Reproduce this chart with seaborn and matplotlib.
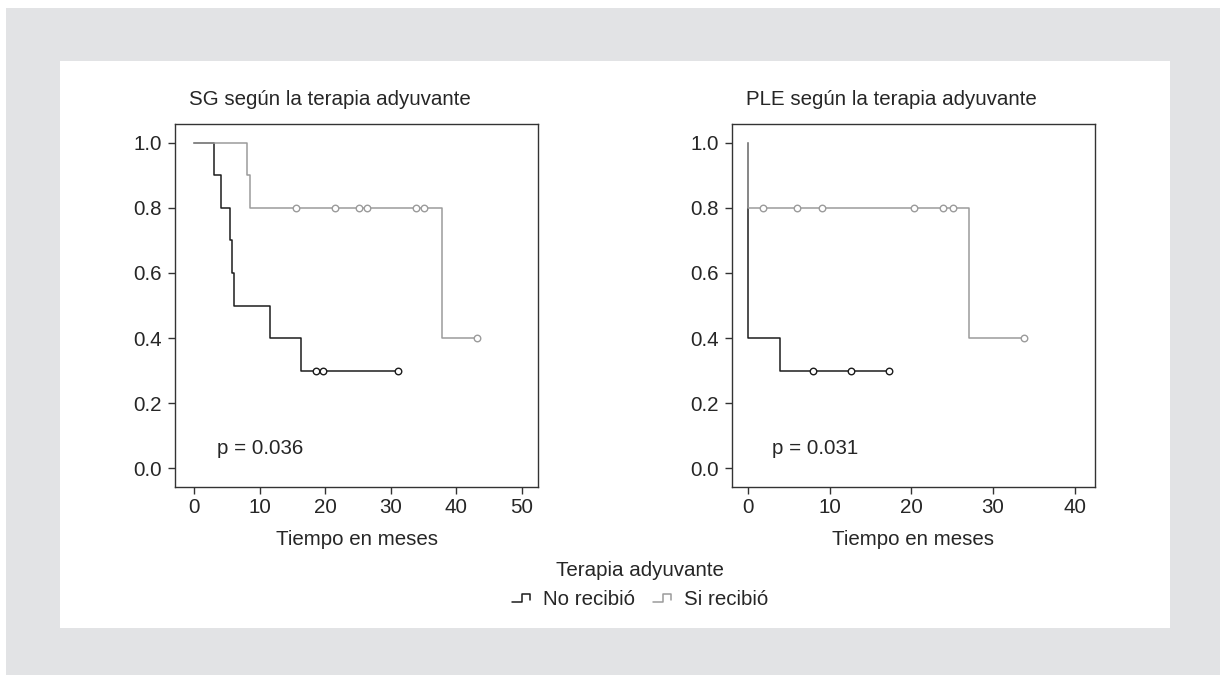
import matplotlib
matplotlib.use("Agg")
import matplotlib.pyplot as plt
import seaborn as sns
import pandas as pd
from matplotlib.lines import Line2D
from matplotlib.patches import Rectangle
from matplotlib.legend_handler import HandlerBase

# ---------------- data ----------------
groups = ["No recibió", "Si recibió"]
colors = {"No recibió": "#1c1c1c", "Si recibió": "#9b9b9b"}

# Panel 1: SG
sg_no_t = [0, 3.05, 4.12, 5.5, 5.75, 6.06, 11.6, 16.4, 31.2]
sg_no_s = [1.0, 0.9, 0.8, 0.7, 0.6, 0.5, 0.4, 0.3, 0.3]
sg_si_t = [0, 8.14, 8.55, 37.9, 43.2]
sg_si_s = [1.0, 0.9, 0.8, 0.4, 0.4]
sg_no_cens_t = [18.6, 19.7, 31.2]
sg_no_cens_s = [0.3, 0.3, 0.3]
sg_si_cens_t = [15.5, 21.5, 25.2, 26.4, 33.9, 35.1, 43.2]
sg_si_cens_s = [0.8, 0.8, 0.8, 0.8, 0.8, 0.8, 0.4]

# Panel 2: PLE
ple_no_t = [0, 0, 3.92, 17.3]
ple_no_s = [1.0, 0.4, 0.3, 0.3]
ple_si_t = [0, 0, 27.0, 33.8]
ple_si_s = [1.0, 0.8, 0.4, 0.4]
ple_no_cens_t = [7.97, 12.6, 17.3]
ple_no_cens_s = [0.3, 0.3, 0.3]
ple_si_cens_t = [1.84, 5.93, 9.0, 20.3, 23.9, 25.05, 33.8]
ple_si_cens_s = [0.8, 0.8, 0.8, 0.8, 0.8, 0.8, 0.4]

titles = ["SG según la terapia adyuvante", "PLE según la terapia adyuvante"]
p_texts = ["p = 0.036", "p = 0.031"]
x_ticks = [[0, 10, 20, 30, 40, 50], [0, 10, 20, 30, 40]]
y_ticks = [0.0, 0.2, 0.4, 0.6, 0.8, 1.0]
x_label = "Tiempo en meses"
legend_title = "Terapia adyuvante"

# ---------------- style ----------------
sns.set_style("white")
plt.rcParams["font.family"] = ["Liberation Sans", "DejaVu Sans"]
FS = 14.8
plt.rcParams["font.size"] = FS

fig = plt.figure(figsize=(12.2, 6.75), dpi=100)
fig.patch.set_facecolor("white")
W, H = 1220, 675
fig.patches.append(Rectangle((6 / W, 0), 1 - 6 / W, 1 - 8 / H, transform=fig.transFigure,
                             facecolor="#e2e3e5", edgecolor="none", zorder=-10))
fig.patches.append(Rectangle((60 / W, 1 - 628 / H), (1170 - 60) / W, (628 - 61) / H,
                             transform=fig.transFigure, facecolor="white",
                             edgecolor="none", zorder=-9))

ax1 = fig.add_axes([175 / W, 1 - 487 / H, 363 / W, 363 / H])
ax2 = fig.add_axes([732 / W, 1 - 487 / H, 363 / W, 363 / H])

panels = [
    (ax1, sg_no_t, sg_no_s, sg_si_t, sg_si_s, sg_no_cens_t, sg_no_cens_s, sg_si_cens_t, sg_si_cens_s, (-2.9, 52.5), (3.56, 0.062), 0.428),
    (ax2, ple_no_t, ple_no_s, ple_si_t, ple_si_s, ple_no_cens_t, ple_no_cens_s, ple_si_cens_t, ple_si_cens_s, (-2.0, 42.5), (2.94, 0.062), 0.44),
]

for i, (ax, nt, ns, st, ss, nct, ncs, sct, scs, xlim, ptxt, tx) in enumerate(panels):
    ax.set_facecolor("white")
    df = pd.DataFrame({
        "t": nt + st,
        "s": ns + ss,
        "g": [groups[0]] * len(nt) + [groups[1]] * len(st),
    })
    sns.lineplot(data=df, x="t", y="s", hue="g", hue_order=groups, palette=colors,
                 estimator=None, sort=False, drawstyle="steps-post", linewidth=1.1,
                 legend=False, ax=ax)
    dfc = pd.DataFrame({
        "t": nct + sct,
        "s": ncs + scs,
        "g": [groups[0]] * len(nct) + [groups[1]] * len(sct),
    })
    for g in groups:
        sub = dfc[dfc["g"] == g]
        sns.scatterplot(data=sub, x="t", y="s", marker="o", s=22, facecolor="white",
                        edgecolor=colors[g], linewidth=1.0, zorder=5, legend=False, ax=ax)
    ax.set_xlim(*xlim)
    ax.set_ylim(-0.057, 1.057)
    ax.set_xticks(x_ticks[i])
    ax.set_yticks(y_ticks)
    ax.set_yticklabels([f"{v:.1f}" for v in y_ticks])
    ax.tick_params(axis="both", direction="out", length=5, width=1, color="#333333",
                   labelsize=FS, left=True, bottom=True)
    ax.tick_params(axis="y", pad=4.5)
    ax.tick_params(axis="x", pad=3)
    ax.set_xlabel(x_label, fontsize=FS, labelpad=9.5)
    ax.set_ylabel("")
    ax.set_title(titles[i], fontsize=FS, pad=14, x=tx)
    for sp in ax.spines.values():
        sp.set_visible(True)
        sp.set_color("#333333")
        sp.set_linewidth(1.0)
    ax.text(ptxt[0], ptxt[1], p_texts[i], fontsize=FS, va="center", ha="left")


class HandlerStep(HandlerBase):
    def create_artists(self, legend, orig_handle, xdescent, ydescent, width, height,
                       fontsize, trans):
        x0, x1 = -xdescent, -xdescent + width
        xm = x0 + width * 0.5
        ylo = -ydescent + height * 0.2
        yhi = -ydescent + height * 0.72
        line = Line2D([x0, xm, xm, x1 - width * 0.08, x1 - width * 0.08],
                      [ylo, ylo, yhi, yhi, ylo + height * 0.15],
                      color=orig_handle.get_color(), linewidth=1.1, transform=trans)
        return [line]


handles = [Line2D([], [], color=colors[g]) for g in groups]
leg = fig.legend(handles, groups, title=legend_title, loc="upper center",
                 bbox_to_anchor=(640 / W, 1 - 549 / H), ncol=2, frameon=False,
                 fontsize=FS, title_fontsize=FS, handlelength=0.95, handletextpad=0.53,
                 columnspacing=0.9, borderpad=0.1, labelspacing=0.45,
                 handler_map={Line2D: HandlerStep()})

fig.savefig("out.png", dpi=100, facecolor=fig.get_facecolor())
